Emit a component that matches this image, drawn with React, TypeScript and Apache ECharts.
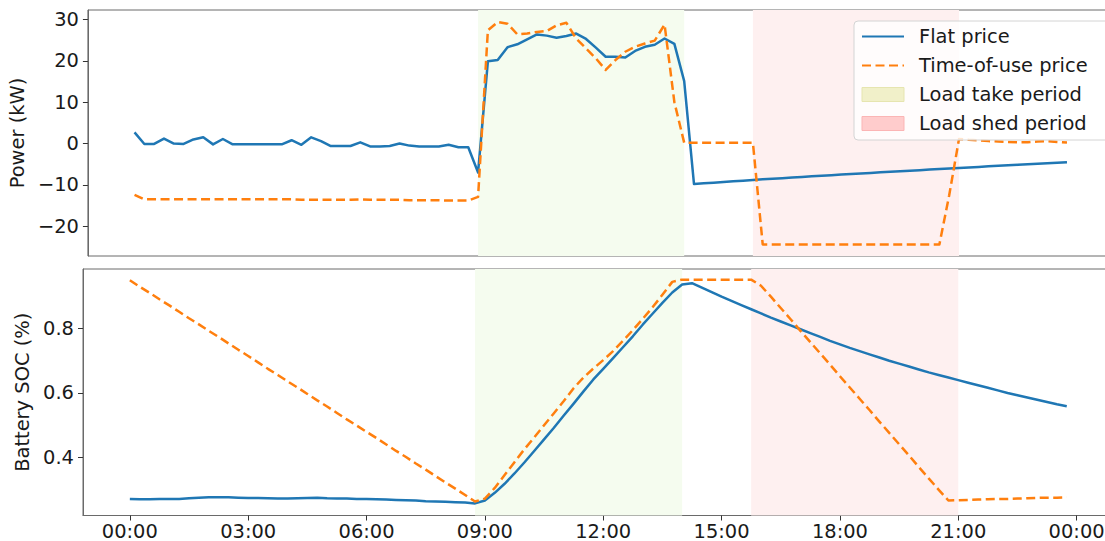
import React, { useEffect, useRef } from 'react';
import * as echarts from 'echarts';

// 15-minute resolution, 00:00 .. 23:45
const STEP_HOURS = 0.25;

const flatPower = [
  2.7, -0.1, -0.1, 1.2, 0.0, -0.1, 1.0, 1.5, -0.2, 1.1, -0.2, -0.2, -0.2, -0.2, -0.2, -0.2,
  0.8, -0.3, 1.5, 0.6, -0.6, -0.6, -0.6, 0.3, -0.7, -0.7, -0.6, 0.0, -0.5, -0.7, -0.7, -0.7,
  -0.3, -0.9, -0.9, -7.0,
  19.9, 20.2, 23.3, 24.0, 25.2, 26.4, 26.1, 25.6, 26.0, 26.6, 25.3, 23.2, 21.0, 21.0, 20.8,
  22.4, 23.4, 23.9, 25.4, 24.1, 15.1,
  -9.8, -9.63, -9.47, -9.3, -9.13, -8.97, -8.8, -8.66, -8.51, -8.37, -8.22, -8.08, -7.93,
  -7.79, -7.64, -7.5, -7.37, -7.23, -7.1, -6.97, -6.83, -6.7, -6.57, -6.43, -6.3, -6.17,
  -6.03, -5.9, -5.77, -5.65, -5.52, -5.39, -5.26, -5.14, -5.01, -4.88, -4.75, -4.63, -4.5,
];

const touPower = [
  -12.4,
  -13.5, -13.5, -13.5, -13.5, -13.5, -13.5, -13.5, -13.5, -13.5, -13.5, -13.5, -13.5, -13.5,
  -13.5, -13.5, -13.5,
  -13.6, -13.6, -13.6, -13.6, -13.6, -13.6, -13.5, -13.6, -13.6, -13.6, -13.6, -13.7, -13.7,
  -13.7, -13.7, -13.8, -13.8, -13.8,
  -12.9,
  27.4, 29.4, 29.0, 26.4, 26.6, 27.0, 27.2, 28.6, 29.2, 25.4, 23.0, 20.6, 17.8, 20.2, 22.2,
  23.4, 24.2, 24.9, 28.8, 10.0,
  0.2, 0.2, 0.2, 0.2, 0.2, 0.2, 0.2, 0.2,
  -24.4, -24.4, -24.4, -24.4, -24.4, -24.4, -24.4, -24.4, -24.4, -24.4, -24.4, -24.4, -24.4,
  -24.4, -24.4, -24.4, -24.4, -24.4, -24.4,
  -12.5,
  1.1, 0.9, 0.8, 0.6, 0.5, 0.4, 0.3, 0.3, 0.5, 0.6, 0.4, 0.25,
];

const flatSoc = [
  0.271, 0.270, 0.270, 0.271, 0.271, 0.271, 0.273, 0.275, 0.276, 0.276, 0.276, 0.275, 0.274,
  0.274, 0.273, 0.272, 0.272, 0.273, 0.274, 0.275, 0.273, 0.272, 0.272, 0.271, 0.271, 0.270,
  0.269, 0.268, 0.267, 0.266, 0.264, 0.263, 0.262, 0.261, 0.260, 0.257,
  0.266, 0.29, 0.318, 0.35, 0.384, 0.42, 0.456, 0.492, 0.530, 0.567, 0.605, 0.642, 0.675,
  0.708, 0.742, 0.776, 0.812, 0.846, 0.88, 0.912, 0.937,
  0.941, 0.927, 0.913, 0.899, 0.886, 0.873, 0.860, 0.847, 0.834, 0.822, 0.810, 0.798, 0.786,
  0.774, 0.762, 0.751, 0.740, 0.730, 0.720, 0.710, 0.700, 0.691, 0.682, 0.673, 0.664, 0.656,
  0.648, 0.640, 0.632, 0.624, 0.616, 0.608, 0.600, 0.593, 0.586, 0.579, 0.572, 0.565, 0.559,
];

const touSoc = [
  0.950, 0.930, 0.911, 0.891, 0.872, 0.852, 0.832, 0.813, 0.793, 0.774, 0.754, 0.734, 0.715,
  0.695, 0.675, 0.656, 0.636, 0.617, 0.597, 0.577, 0.558, 0.538, 0.518, 0.499, 0.479, 0.460,
  0.440, 0.420, 0.401, 0.381, 0.362, 0.342, 0.322, 0.303, 0.283, 0.263,
  0.272, 0.305, 0.345, 0.385, 0.425, 0.462, 0.500, 0.537, 0.575, 0.615, 0.648, 0.676, 0.702,
  0.730, 0.762, 0.795, 0.830, 0.866, 0.905, 0.945,
  0.952, 0.952, 0.952, 0.952, 0.952, 0.952, 0.952, 0.952,
  0.933, 0.899, 0.864, 0.829, 0.793, 0.758, 0.723, 0.688, 0.652, 0.617, 0.582, 0.547, 0.511,
  0.476, 0.441, 0.406, 0.370, 0.335, 0.300, 0.266,
  0.267, 0.268, 0.269, 0.270, 0.271, 0.271, 0.272, 0.273, 0.274, 0.275, 0.275, 0.276,
];

const timeTicks = [0, 3, 6, 9, 12, 15, 18, 21, 24];
const powerTicks = [-20, -10, 0, 10, 20, 30];
const socTicks = [0.4, 0.6, 0.8];
const takePeriod = [8.75, 14];
const shedPeriod = [15.75, 21];

const seriesNames = ['Flat price', 'Time-of-use price', 'Load take period', 'Load shed period'];

const FONT = 'DejaVu Sans';
const FS = 19.44;
const TEXT = '#1a1a1a';
const BLUE = '#1f77b4';
const ORANGE = '#ff7f0e';
const SPINE = '#6a6a6a';
const TAKE_SPAN = '#f5fcef';
const SHED_SPAN = '#fef0f0';
const X_MIN = -1.1875;
const X_MAX = 24.9375;
const CHART_W = 1120;

const pairs = (vals: number[]) => vals.map((v, i) => [i * STEP_HOURS, v]);
const fmtTime = (h: number) => String(Math.round(h) % 24).padStart(2, '0') + ':00';
const fmtNum = (v: number) => (v < 0 ? '\u2212' + Math.abs(v) : String(v));

const spans = {
  silent: true,
  data: [
    [{ xAxis: takePeriod[0], itemStyle: { color: TAKE_SPAN } }, { xAxis: takePeriod[1] }],
    [{ xAxis: shedPeriod[0], itemStyle: { color: SHED_SPAN } }, { xAxis: shedPeriod[1] }],
  ],
};

function buildOption() {
  const grid = (top: number, height: number) => ({
    left: 83,
    width: 1030.6,
    top,
    height,
    show: true,
    borderColor: SPINE,
    borderWidth: 1,
    backgroundColor: 'transparent',
  });
  const labelStyle = { fontFamily: FONT, fontSize: FS, color: TEXT };
  const xBase = {
    type: 'value',
    min: X_MIN,
    max: X_MAX,
    splitLine: { show: false },
  };
  const yAxis = (gridIndex: number, min: number, max: number, ticks: number[], name: string, gap: number, fmt: (v: number) => string) => ({
    type: 'value',
    gridIndex,
    min,
    max,
    name,
    nameLocation: 'middle',
    nameGap: gap,
    nameTextStyle: { fontFamily: FONT, fontSize: FS, color: TEXT },
    axisLine: { show: true, onZero: false, lineStyle: { color: SPINE, width: 1 } },
    axisTick: { show: true, length: 5, customValues: ticks, lineStyle: { color: '#333' } },
    axisLabel: { ...labelStyle, customValues: ticks, formatter: fmt, margin: 9 },
    splitLine: { show: false },
  });
  const lineSeries = (name: string, data: number[], idx: number, color: string, dashed: boolean, withSpans: boolean) => ({
    name,
    type: 'line',
    xAxisIndex: idx,
    yAxisIndex: idx,
    data: pairs(data),
    symbol: 'none',
    showSymbol: false,
    lineStyle: { color, width: 2.5, type: dashed ? [9, 4.5] : 'solid', cap: 'butt', join: 'round' },
    itemStyle: { color },
    markArea: withSpans ? spans : undefined,
    z: dashed ? 3 : 2,
  });

  return {
    animation: false,
    backgroundColor: '#ffffff',
    grid: [grid(10, 246), grid(269, 246.5)],
    xAxis: [
      { ...xBase, gridIndex: 0, axisLine: { show: false, onZero: false }, axisTick: { show: false }, axisLabel: { show: false } },
      {
        ...xBase,
        gridIndex: 1,
        axisLine: { show: true, onZero: false, lineStyle: { color: SPINE, width: 1 } },
        axisTick: { show: true, length: 5, customValues: timeTicks, lineStyle: { color: '#333' } },
        axisLabel: { ...labelStyle, customValues: timeTicks, formatter: fmtTime, margin: 6 },
      },
    ],
    yAxis: [
      yAxis(0, -27.2, 32.3, powerTicks, 'Power (kW)', 52, fmtNum),
      yAxis(1, 0.2195, 0.985, socTicks, 'Battery SOC (%)', 42, (v: number) => v.toFixed(1)),
    ],
    legend: {
      orient: 'vertical',
      left: 854,
      top: 21,
      itemWidth: 42,
      itemHeight: 14,
      itemGap: 10,
      selectedMode: false,
      backgroundColor: 'rgba(255,255,255,0.8)',
      borderColor: '#d4d4d4',
      borderWidth: 1,
      borderRadius: 4,
      padding: [6, 30, 7, 7],
      textStyle: { fontFamily: FONT, fontSize: FS, color: TEXT, padding: [0, 0, 0, 10] },
      data: [
        { name: seriesNames[0], itemStyle: { opacity: 0 } },
        { name: seriesNames[1], itemStyle: { opacity: 0 } },
        { name: seriesNames[2], icon: 'rect', itemStyle: { color: '#f1f0c9', borderColor: '#e6e5b0', borderWidth: 1, opacity: 1 } },
        { name: seriesNames[3], icon: 'rect', itemStyle: { color: '#ffcccc', borderColor: '#fbb5b5', borderWidth: 1, opacity: 1 } },
      ],
      z: 10,
    },
    series: [
      lineSeries(seriesNames[0], flatPower, 0, BLUE, false, true),
      lineSeries(seriesNames[1], touPower, 0, ORANGE, true, false),
      lineSeries(seriesNames[0], flatSoc, 1, BLUE, false, true),
      lineSeries(seriesNames[1], touSoc, 1, ORANGE, true, false),
      { name: seriesNames[2], type: 'line', xAxisIndex: 0, yAxisIndex: 0, data: [], itemStyle: { color: '#f1f0c9' } },
      { name: seriesNames[3], type: 'line', xAxisIndex: 0, yAxisIndex: 0, data: [], itemStyle: { color: '#ffcccc' } },
    ],
  };
}

export default function App() {
  const ref = useRef<HTMLDivElement>(null);
  useEffect(() => {
    if (!ref.current) return;
    const chart = echarts.init(ref.current, null, { renderer: 'svg' });
    chart.setOption(buildOption() as any);
    return () => chart.dispose();
  }, []);
  return (
    <div style={{ position: 'fixed', left: 0, top: 0, width: 1105, height: 541, overflow: 'hidden', background: '#fff' }}>
      <div ref={ref} style={{ width: CHART_W, height: 541 }} />
    </div>
  );
}
